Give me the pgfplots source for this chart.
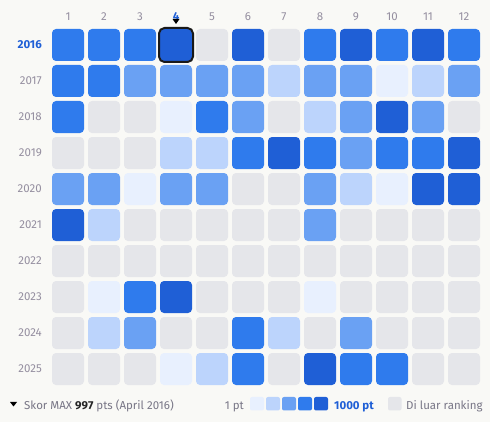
\documentclass[border=0pt]{standalone}
\usepackage{pgfplots}
\pgfplotsset{compat=1.18}
\usepackage{pgfplotstable}
\usepackage{fontspec}
\setmainfont{Fira Sans}
\definecolor{bg}{HTML}{F9F9F6}
\definecolor{cg}{HTML}{E5E6EA}
\definecolor{ca}{HTML}{E8F0FE}
\definecolor{cb}{HTML}{BCD4FC}
\definecolor{cc}{HTML}{6AA1F3}
\definecolor{cd}{HTML}{2F7BED}
\definecolor{ce}{HTML}{1F5FD6}
\definecolor{lab}{HTML}{958FA0}
\definecolor{txt}{HTML}{787686}
\pgfdeclareplotmark{rsq}{%
  \path[fill, draw=none, rounded corners=4bp] (-\pgfplotmarksize,-\pgfplotmarksize) rectangle (\pgfplotmarksize,\pgfplotmarksize);}
\pgfdeclareplotmark{rsqo}{%
  \path[draw, fill=none, line width=2bp, rounded corners=5.5bp] (-\pgfplotmarksize,-\pgfplotmarksize) rectangle (\pgfplotmarksize,\pgfplotmarksize);}
\pgfplotstableread{
x y c
1 2016 d
2 2016 d
3 2016 d
4 2016 e
5 2016 g
6 2016 e
7 2016 g
8 2016 d
9 2016 e
10 2016 d
11 2016 e
12 2016 d
1 2017 d
2 2017 d
3 2017 c
4 2017 c
5 2017 c
6 2017 c
7 2017 b
8 2017 c
9 2017 c
10 2017 a
11 2017 b
12 2017 c
1 2018 d
2 2018 g
3 2018 g
4 2018 a
5 2018 d
6 2018 c
7 2018 g
8 2018 b
9 2018 c
10 2018 e
11 2018 c
12 2018 g
1 2019 g
2 2019 g
3 2019 g
4 2019 b
5 2019 b
6 2019 d
7 2019 e
8 2019 d
9 2019 c
10 2019 d
11 2019 d
12 2019 e
1 2020 c
2 2020 c
3 2020 a
4 2020 c
5 2020 c
6 2020 g
7 2020 g
8 2020 c
9 2020 b
10 2020 a
11 2020 e
12 2020 e
1 2021 e
2 2021 b
3 2021 g
4 2021 g
5 2021 g
6 2021 g
7 2021 g
8 2021 c
9 2021 g
10 2021 g
11 2021 g
12 2021 g
1 2022 g
2 2022 g
3 2022 g
4 2022 g
5 2022 g
6 2022 g
7 2022 g
8 2022 g
9 2022 g
10 2022 g
11 2022 g
12 2022 g
1 2023 g
2 2023 a
3 2023 d
4 2023 e
5 2023 g
6 2023 g
7 2023 g
8 2023 a
9 2023 g
10 2023 g
11 2023 g
12 2023 g
1 2024 g
2 2024 b
3 2024 c
4 2024 g
5 2024 g
6 2024 d
7 2024 b
8 2024 g
9 2024 c
10 2024 g
11 2024 g
12 2024 g
1 2025 g
2 2025 g
3 2025 g
4 2025 a
5 2025 b
6 2025 d
7 2025 g
8 2025 e
9 2025 d
10 2025 d
11 2025 g
12 2025 g
}\data
\begin{document}
\begin{tikzpicture}
\useasboundingbox (0,0) rectangle (490bp,422bp);
\fill[bg] (0,0) rectangle (490bp,422bp);
\begin{axis}[
  at={(50bp,35bp)}, anchor=south west,
  scale only axis, width=432bp, height=360bp,
  xmin=0.5, xmax=12.5, ymin=2015.5, ymax=2025.5,
  y dir=reverse,
  axis line style={draw=none},
  major tick length=0pt,
  xtick={1,...,12},
  xticklabels={1,2,3,{\textcolor{ce}{\bfseries 4}},5,6,7,8,9,10,11,12},
  ytick={2016,...,2025},
  yticklabels={{\textcolor{ce}{\bfseries 2016}},2017,2018,2019,2020,2021,2022,2023,2024,2025},
  xticklabel pos=upper,
  xticklabel style={anchor=base, yshift=6bp, inner sep=0pt, font=\fontsize{11.5bp}{13bp}\selectfont, text=lab},
  yticklabel style={anchor=east, inner sep=0pt, xshift=-8bp, font=\fontsize{11.5bp}{13bp}\selectfont, text=lab},
  /pgf/number format/assume math mode=true,
  clip=false,
]
\addplot[scatter, only marks, mark=rsq, mark size=16bp,
  scatter src=explicit symbolic,
  scatter/classes={
    g={mark=rsq,fill=cg},
    a={mark=rsq,fill=ca},
    b={mark=rsq,fill=cb},
    c={mark=rsq,fill=cc},
    d={mark=rsq,fill=cd},
    e={mark=rsq,fill=ce}}]
  table[x=x, y=y, meta=c] {\data};
\addplot[only marks, mark=rsqo, mark size=17bp, draw=black!90] coordinates {(4,2016)};
\fill[black] ([xshift=-3.5bp,yshift=8bp]axis cs:4,2015.5) -- ([xshift=3.5bp,yshift=8bp]axis cs:4,2015.5) -- ([yshift=3bp]axis cs:4,2015.5) -- cycle;
\end{axis}
% legend
\fill[black] (10bp,20bp) -- (17bp,20bp) -- (13.5bp,15.5bp) -- cycle;
\node[anchor=base west, inner sep=0pt, text=txt, font=\fontsize{11.5bp}{13bp}\selectfont] at (24bp,13bp) {Skor MAX \textcolor{black!85}{\bfseries 997} pts (April 2016)};
\node[anchor=base east, inner sep=0pt, text=txt, font=\fontsize{11.5bp}{13bp}\selectfont] at (244bp,13bp) {1 pt};
\foreach \xx/\cc in {250/ca,266/cb,282/cc,298/cd,314/ce} {
  \fill[\cc, rounded corners=2bp] (\xx bp,11.5bp) rectangle ++(14bp,13.5bp);
}
\node[anchor=base west, inner sep=0pt, text=ce, font=\fontsize{11.5bp}{13bp}\selectfont\bfseries] at (334bp,13bp) {1000 pt};
\fill[cg, rounded corners=2bp] (388bp,11.5bp) rectangle ++(13.5bp,13.5bp);
\node[anchor=base west, inner sep=0pt, text=txt, font=\fontsize{11.5bp}{13bp}\selectfont] at (406bp,13bp) {Di luar ranking};
\end{tikzpicture}
\end{document}
